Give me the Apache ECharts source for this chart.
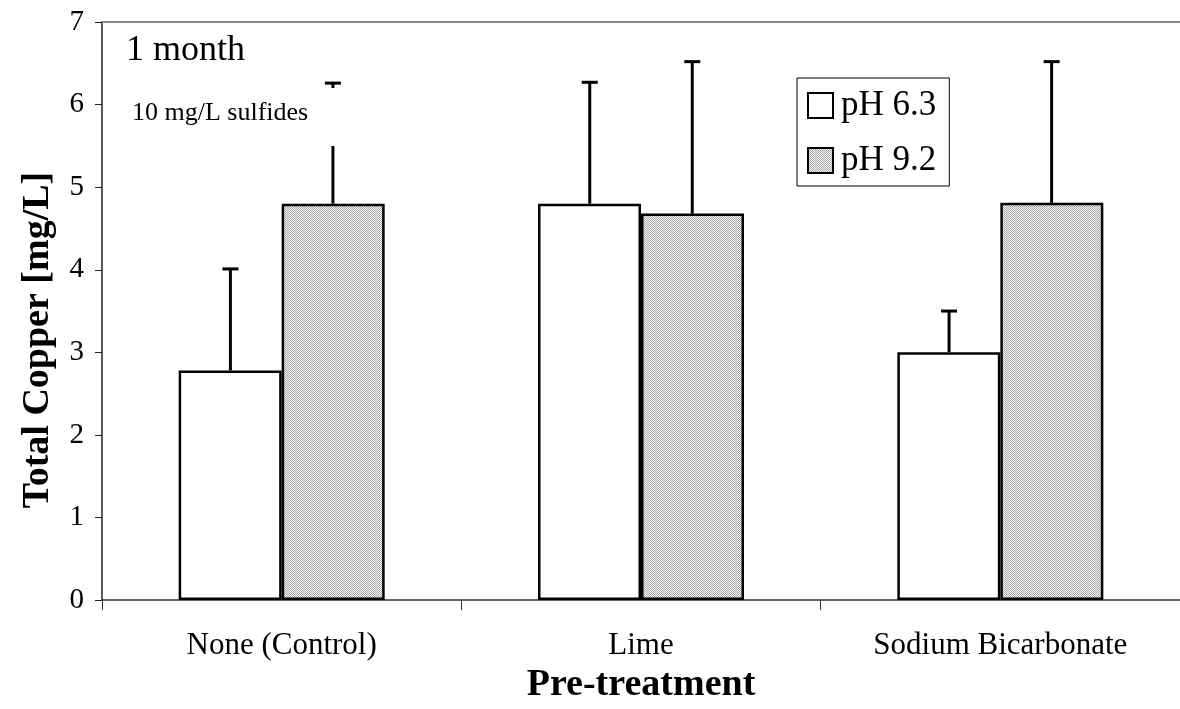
<!DOCTYPE html>
<html>
<head>
<meta charset="utf-8">
<title>Total Copper - 1 month</title>
<script src="https://cdn.jsdelivr.net/npm/echarts@6/dist/echarts.min.js"></script>
<style>
  html, body { margin: 0; padding: 0; background: #fff; }
  #main { width: 1180px; height: 709px; }
</style>
</head>
<body>
<div id="main"></div>
<script>
// DATA ---------------------------------------------------------------
var categories = ['None (Control)', 'Lime', 'Sodium Bicarbonate'];
var seriesNames = ['pH 6.3', 'pH 9.2'];
var ph63 = [2.78, 4.80, 3.00];
var ph92 = [4.80, 4.68, 4.81];
var ph63Err = [1.23, 1.47, 0.50];
var ph92Err = [1.46, 1.84, 1.71];
var yTicks = [0, 1, 2, 3, 4, 5, 6, 7];

var FONT = '"Liberation Serif", "Times New Roman", serif';

// dotted gray fill like the old excel pattern
function makePattern() {
    var c = document.createElement('canvas');
    c.width = 2;
    c.height = 2;
    var ctx = c.getContext('2d');
    ctx.fillStyle = '#f4f4f4';
    ctx.fillRect(0, 0, 2, 2);
    ctx.fillStyle = '#aaaaaa';
    ctx.fillRect(0, 0, 1, 1);
    ctx.fillRect(1, 1, 1, 1);
    return { image: c, repeat: 'repeat' };
}

// error bar (upper only, with cap) drawn through the axes
function errorSeries(values, errs, offset) {
    var data = values.map(function (v, i) { return [i, v, errs[i]]; });
    return {
        type: 'custom',
        silent: true,
        z: 1,
        data: data,
        renderItem: function (params, api) {
            var idx = api.value(0);
            var v = api.value(1);
            var e = api.value(2);
            var band = api.size([1, 0])[0];
            var bottom = api.coord([idx, v]);
            var top = api.coord([idx, v + e]);
            var x = bottom[0] + offset * band;
            var style = { stroke: '#000', lineWidth: 3 };
            return {
                type: 'group',
                children: [
                    { type: 'line', shape: { x1: x, y1: bottom[1], x2: x, y2: top[1] }, style: style },
                    { type: 'line', shape: { x1: x - 8, y1: top[1], x2: x + 8, y2: top[1] }, style: style }
                ]
            };
        }
    };
}

var chart = echarts.init(document.getElementById('main'));
var dotted = makePattern();

var option = {
    backgroundColor: '#fff',
    animation: false,
    textStyle: { fontFamily: FONT, color: '#000' },
    grid: { left: 102, right: -5, top: 22, bottom: 100, containLabel: false },
    legend: {
        orient: 'vertical',
        left: 797,
        top: 78,
        padding: [10, 13, 8, 10],
        itemGap: 20,
        itemWidth: 25,
        itemHeight: 25,
        icon: 'rect',
        borderColor: '#000',
        borderWidth: 1,
        backgroundColor: '#fff',
        data: seriesNames,
        textStyle: { fontFamily: FONT, fontSize: 35, color: '#000', padding: [0, 0, 0, 3] }
    },
    xAxis: [{
        type: 'category',
        data: categories,
        axisLine: { lineStyle: { color: '#333', width: 1.5 } },
        axisTick: { show: true, length: 10, lineStyle: { color: '#333' } },
        axisLabel: { fontFamily: FONT, fontSize: 31, color: '#000', margin: 30 },
        name: 'Pre-treatment',
        nameLocation: 'middle',
        nameGap: 63,
        nameTextStyle: { fontFamily: FONT, fontSize: 38, fontWeight: 'bold', color: '#000' }
    }, {
        // plot area top border
        type: 'category',
        position: 'top',
        data: categories,
        axisLine: { lineStyle: { color: '#888', width: 2 } },
        axisTick: { show: false },
        axisLabel: { show: false }
    }],
    yAxis: {
        type: 'value',
        min: yTicks[0],
        max: yTicks[yTicks.length - 1],
        interval: 1,
        axisLine: { show: true, lineStyle: { color: '#222', width: 1.5 } },
        axisTick: { show: true, length: 7, lineStyle: { color: '#222' } },
        splitLine: { show: false },
        axisLabel: { fontFamily: FONT, fontSize: 29, color: '#000', margin: 18 }
    },
    graphic: [
        {
            type: 'text', left: 126, top: 33, z: 100,
            style: { text: '1 month', font: '36px ' + FONT, fill: '#000' }
        },
        {
            type: 'rect', z: 99,
            shape: { x: 118, y: 88, width: 226, height: 58 },
            style: { fill: '#fff' }
        },
        {
            type: 'text', left: 132, top: 100, z: 100,
            style: { text: '10 mg/L sulfides', font: '26px ' + FONT, fill: '#000' }
        },
        {
            type: 'text', z: 100,
            x: 38, y: 340, rotation: Math.PI / 2,
            style: {
                text: 'Total Copper [mg/L]', font: 'bold 38px ' + FONT, fill: '#000',
                align: 'center', verticalAlign: 'middle'
            }
        }
    ],
    series: [
        {
            name: seriesNames[0],
            type: 'bar',
            barWidth: 103,
            barGap: '0%',
            z: 2,
            itemStyle: { color: '#fff', borderColor: '#000', borderWidth: 2.5 },
            data: ph63
        },
        {
            name: seriesNames[1],
            type: 'bar',
            barWidth: 103,
            barGap: '0%',
            z: 2,
            itemStyle: { color: dotted, borderColor: '#000', borderWidth: 2.5 },
            data: ph92
        },
        errorSeries(ph63, ph63Err, -51.5 / 361),
        errorSeries(ph92, ph92Err, 51.5 / 361)
    ]
};

chart.setOption(option);
</script>
</body>
</html>
